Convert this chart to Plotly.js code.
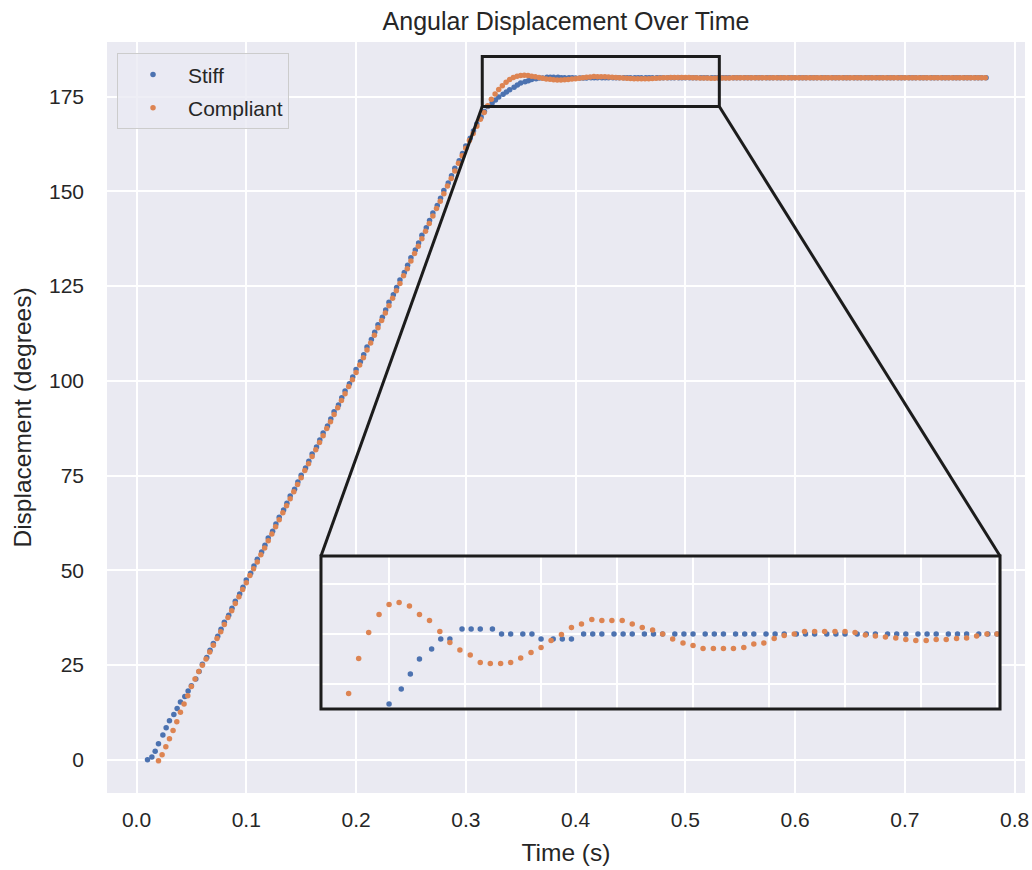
<!DOCTYPE html>
<html>
<head>
<meta charset="utf-8">
<script src="https://cdn.plot.ly/plotly-3.0.1.min.js"></script>
<style>html,body{margin:0;padding:0;background:#fff;}</style>
</head>
<body>
<div id="chart" style="width:1032px;height:870px;"></div>
<script>
// ---------------- DATA ----------------
// Stiff joint: sample times (s)
const stiffTime = [
0.010,0.014,0.017,0.020,0.024,0.027,0.030,0.034,0.037,0.040,0.044,0.047,
0.050,0.054,0.057,0.060,0.064,0.067,0.070,0.074,0.077,0.080,0.084,0.087,
0.090,0.094,0.097,0.100,0.104,0.107,0.110,0.114,0.117,0.120,0.124,0.127,
0.130,0.134,0.137,0.140,0.144,0.147,0.150,0.154,0.157,0.160,0.164,0.167,
0.170,0.174,0.177,0.180,0.184,0.187,0.190,0.194,0.197,0.200,0.204,0.207,
0.210,0.214,0.217,0.220,0.224,0.227,0.230,0.234,0.237,0.240,0.244,0.247,
0.250,0.254,0.257,0.260,0.264,0.267,0.270,0.274,0.277,0.280,0.284,0.287,
0.290,0.294,0.297,0.300,0.304,0.307,0.310,0.314,0.317,0.320,0.324,0.327,
0.330,0.334,0.337,0.340,0.344,0.347,0.350,0.354,0.357,0.360,0.364,0.367,
0.370,0.374,0.377,0.380,0.384,0.387,0.390,0.394,0.397,0.400,0.404,0.407,
0.410,0.414,0.417,0.420,0.424,0.427,0.430,0.434,0.437,0.440,0.444,0.447,
0.450,0.454,0.457,0.460,0.464,0.467,0.470,0.474,0.477,0.480,0.484,0.487,
0.490,0.494,0.497,0.500,0.504,0.507,0.510,0.514,0.517,0.520,0.524,0.527,
0.530,0.534,0.537,0.540,0.544,0.547,0.550,0.554,0.557,0.560,0.564,0.567,
0.570,0.574,0.577,0.580,0.584,0.587,0.590,0.594,0.597,0.600,0.604,0.607,
0.610,0.614,0.617,0.620,0.624,0.627,0.630,0.634,0.637,0.640,0.644,0.647,
0.650,0.654,0.657,0.660,0.664,0.667,0.670,0.674,0.677,0.680,0.684,0.687,
0.690,0.694,0.697,0.700,0.704,0.707,0.710,0.714,0.717,0.720,0.724,0.727,
0.730,0.734,0.737,0.740,0.744,0.747,0.750,0.754,0.757,0.760,0.764,0.767,
0.770,0.774
];
// Stiff joint: angular displacement (degrees)
const stiffDeg = [
0.0,0.7,2.2,4.2,6.5,8.4,10.3,11.9,13.5,15.2,16.7,18.1,19.5,21.3,23.3,25.2,
27.0,28.9,30.7,32.6,34.4,36.3,38.1,40.0,41.8,43.7,45.5,47.4,49.2,51.1,52.9,54.8,
56.6,58.5,60.3,62.2,64.0,65.9,67.7,69.6,71.4,73.3,75.1,77.0,78.8,80.7,82.5,84.4,
86.2,88.1,89.9,91.8,93.6,95.5,97.3,99.2,101.0,
103.0,105.0,106.9,108.9,110.9,112.8,114.8,116.8,118.7,120.7,
122.7,124.6,126.6,128.6,130.5,132.5,134.5,136.4,138.4,140.4,
142.3,144.3,146.3,148.2,150.2,152.2,154.1,156.1,158.1,160.0,
162.0,164.0,165.9,167.8,169.6,171.1,172.4,173.3,174.1,174.9,
175.6,176.2,176.8,177.5,178.1,178.6,178.9,179.2,179.5,179.7,
179.9,179.9,180.1,180.1,180.1,180.1,180.0,180.0,180.0,180.0,
179.9,179.9,179.9,179.9,
180,180,180,180,180,180,180,180,180,180,
180,180,180,180,180,180,180,180,180,180,
180,180,180,180,180,180,180,180,180,180,
180,180,180,180,180,180,180,180,180,180,
180,180,180,180,180,180,180,180,180,180,
180,180,180,180,180,180,180,180,180,180,
180,180,180,180,180,180,180,180,180,180,
180,180,180,180,180,180,180,180,180,180,
180,180,180,180,180,180,180,180,180,180,
180,180,180,180,180,180,180,180,180,180,
180,180,180,180,180,180,180,180,180
];
// Compliant joint: sample times (s)
const compliantTime = [
0.0200,0.0233,0.0267,0.0300,0.0333,0.0367,0.0400,0.0433,0.0467,0.0500,0.0533,0.0567,
0.0600,0.0633,0.0667,0.0700,0.0733,0.0767,0.0800,0.0833,0.0867,0.0900,0.0933,0.0967,
0.1000,0.1033,0.1067,0.1100,0.1133,0.1167,0.1200,0.1233,0.1267,0.1300,0.1333,0.1367,
0.1400,0.1433,0.1467,0.1500,0.1533,0.1567,0.1600,0.1633,0.1667,0.1700,0.1733,0.1767,
0.1800,0.1833,0.1867,0.1900,0.1933,0.1967,0.2000,0.2033,0.2067,0.2100,0.2133,0.2167,
0.2200,0.2233,0.2267,0.2300,0.2333,0.2367,0.2400,0.2433,0.2467,0.2500,0.2533,0.2567,
0.2600,0.2633,0.2667,0.2700,0.2733,0.2767,0.2800,0.2833,0.2867,0.2900,0.2933,0.2967,
0.3000,0.3033,0.3067,0.3100,0.3133,0.3167,0.3200,0.3233,0.3267,0.3300,0.3333,0.3367,
0.3400,0.3433,0.3467,0.3500,0.3533,0.3567,0.3600,0.3633,0.3667,0.3700,0.3733,0.3767,
0.3800,0.3833,0.3867,0.3900,0.3933,0.3967,0.4000,0.4033,0.4067,0.4100,0.4133,0.4167,
0.4200,0.4233,0.4267,0.4300,0.4333,0.4367,0.4400,0.4433,0.4467,0.4500,0.4533,0.4567,
0.4600,0.4633,0.4667,0.4700,0.4733,0.4767,0.4800,0.4833,0.4867,0.4900,0.4933,0.4967,
0.5000,0.5033,0.5067,0.5100,0.5133,0.5167,0.5200,0.5233,0.5267,0.5300,0.5333,0.5367,
0.5400,0.5433,0.5467,0.5500,0.5533,0.5567,0.5600,0.5633,0.5667,0.5700,0.5733,0.5767,
0.5800,0.5833,0.5867,0.5900,0.5933,0.5967,0.6000,0.6033,0.6067,0.6100,0.6133,0.6167,
0.6200,0.6233,0.6267,0.6300,0.6333,0.6367,0.6400,0.6433,0.6467,0.6500,0.6533,0.6567,
0.6600,0.6633,0.6667,0.6700,0.6733,0.6767,0.6800,0.6833,0.6867,0.6900,0.6933,0.6967,
0.7000,0.7033,0.7067,0.7100,0.7133,0.7167,0.7200,0.7233,0.7267,0.7300,0.7333,0.7367,
0.7400,0.7433,0.7467,0.7500,0.7533,0.7567,0.7600,0.7633,0.7667,
0.7700,0.7733
];
// Compliant joint: angular displacement (degrees)
const compliantDeg = [
-0.3,1.3,3.4,5.5,7.7,10.0,12.5,14.7,16.9,19.3,21.3,23.3,
24.9,26.6,28.4,30.2,32.0,33.8,35.7,37.5,39.3,41.2,43.0,44.9,46.7,48.6,
50.4,52.2,54.1,55.9,57.8,59.6,61.5,63.3,65.2,67.0,68.9,70.7,72.6,74.4,
76.3,78.1,80.0,81.8,83.7,85.5,87.4,89.2,91.1,92.9,94.8,96.6,98.5,100.3,
102.2,104.2,106.1,108.1,110.0,112.0,114.0,115.9,117.9,119.8,
121.8,123.8,125.7,127.7,129.6,131.6,133.6,135.5,137.5,139.5,
141.5,143.5,145.5,147.4,149.4,151.4,153.4,155.4,157.4,159.4,
161.4,163.4,165.3,167.2,169.0,170.8,172.6,174.3,175.7,176.9,
177.9,
178.81,179.51,180.03,180.39,180.59,
180.63,180.56,180.39,180.27,180.05,
179.83,179.68,179.58,179.43,179.41,
179.41,179.43,179.52,179.63,179.73,
179.87,179.99,180.13,180.20,180.29,
180.27,180.27,180.27,180.20,180.13,
180.08,180.00,179.90,179.82,179.77,
179.71,179.71,179.71,179.71,179.73,
179.80,179.82,179.91,179.97,180.00,
180.05,180.05,180.05,180.05,180.05,
180.03,179.98,179.96,179.94,179.92,
179.89,179.87,179.87,179.89,179.89,
179.91,179.92,179.96,180.00,180.00,
180,180,180,180,180,180,180,180,180,180,
180,180,180,180,180,180,180,180,180,180,
180,180,180,180,180,180,180,180,180,180,
180,180,180,180,180,180,180,180,180,180,
180,180,180,180,180,180,180,180,180,180,
180,180,180,180,180,180,180,180,180,180,
180,180,180,180,180,180,180
];
const seriesNames = ['Stiff', 'Compliant'];
const xTickStep = 0.1;
const yTickStep = 25;

// ---------------- STYLE / LAYOUT ----------------
const FONT = '"Liberation Sans", Arial, Helvetica, sans-serif';
const TXT = '#262626';
const BLUE = '#4C72B0';
const ORANGE = '#DD8452';
const FRAME = '#1c1c1c';

const mainXRange = [-0.0269, 0.8095];
const mainYRange = [-8.79, 189.42];
const insetDomX = [0.2331, 0.9728];
const insetDomY = [0.1119, 0.3156];
const insetXRange = [0.3276, 0.5510];
const insetYRange = [178.5, 181.56];
const zoomBox = {x0: 0.315, x1: 0.531, y0: 172.4, y1: 185.6};

const mk = (c) => ({color: c, size: 5.5, line: {width: 0}});

const traces = [
  {x: stiffTime, y: stiffDeg, name: seriesNames[0], type: 'scatter', mode: 'markers',
   marker: mk(BLUE), legendgroup: 'a', xaxis: 'x', yaxis: 'y'},
  {x: compliantTime, y: compliantDeg, name: seriesNames[1], type: 'scatter', mode: 'markers',
   marker: mk(ORANGE), legendgroup: 'b', xaxis: 'x', yaxis: 'y'},
  {x: stiffTime, y: stiffDeg, name: seriesNames[0], type: 'scatter', mode: 'markers',
   marker: mk(BLUE), showlegend: false, xaxis: 'x2', yaxis: 'y2'},
  {x: compliantTime, y: compliantDeg, name: seriesNames[1], type: 'scatter', mode: 'markers',
   marker: mk(ORANGE), showlegend: false, xaxis: 'x2', yaxis: 'y2'}
];

// inset corners expressed in the main axes' data coordinates
const px2x = p => mainXRange[0] + p * (mainXRange[1] - mainXRange[0]);
const py2y = p => mainYRange[0] + p * (mainYRange[1] - mainYRange[0]);

const baseAxis = {
  showgrid: true, gridcolor: '#ffffff', gridwidth: 2,
  zeroline: false, showline: false, ticks: '', automargin: false
};

const layout = {
  width: 1032, height: 870,
  margin: {l: 107, r: 7, t: 42, b: 77, pad: 0},
  paper_bgcolor: '#ffffff',
  plot_bgcolor: '#EAEAF2',
  font: {family: FONT, color: TXT, size: 21},
  showlegend: true,
  title: {
    text: 'Angular Displacement Over Time',
    font: {family: FONT, size: 25, color: TXT},
    x: 0.5, xref: 'paper', xanchor: 'center',
    y: 1 - 21 / 870, yref: 'container', yanchor: 'middle'
  },
  xaxis: Object.assign({}, baseAxis, {
    domain: [0, 1], range: mainXRange, tick0: 0, dtick: xTickStep, tickformat: '.1f',
    tickfont: {family: FONT, size: 21, color: TXT}, ticklabelstandoff: 12,
    title: {text: 'Time (s)', font: {family: FONT, size: 24.5, color: TXT}, standoff: 13},
    anchor: 'y'
  }),
  yaxis: Object.assign({}, baseAxis, {
    domain: [0, 1], range: mainYRange, tick0: 0, dtick: yTickStep,
    tickfont: {family: FONT, size: 21, color: TXT}, ticklabelstandoff: 22,
    title: {text: 'Displacement (degrees)', font: {family: FONT, size: 24.5, color: TXT}, standoff: 10},
    anchor: 'x'
  }),
  xaxis2: Object.assign({}, baseAxis, {
    domain: insetDomX, range: insetXRange, tick0: 0.35, dtick: 0.025,
    showticklabels: false, anchor: 'y2'
  }),
  yaxis2: Object.assign({}, baseAxis, {
    domain: insetDomY, range: insetYRange, tick0: 180, dtick: 1,
    showticklabels: false, anchor: 'x2'
  }),
  legend: {
    x: 0.0109, y: 0.985, xanchor: 'left', yanchor: 'top',
    bgcolor: 'rgba(234,234,242,0.8)', bordercolor: '#cccccc', borderwidth: 1,
    font: {family: FONT, size: 21, color: TXT},
    itemwidth: 60, tracegroupgap: 3, entrywidth: 180
  },
  shapes: [
    {type: 'rect', xref: 'x', yref: 'y', x0: zoomBox.x0, x1: zoomBox.x1, y0: zoomBox.y0, y1: zoomBox.y1,
     line: {color: FRAME, width: 3}, fillcolor: 'rgba(0,0,0,0)', layer: 'above'},
    {type: 'line', xref: 'x', yref: 'y', x0: zoomBox.x0, y0: zoomBox.y0,
     x1: px2x(insetDomX[0]), y1: py2y(insetDomY[1]), line: {color: FRAME, width: 3}, layer: 'above'},
    {type: 'line', xref: 'x', yref: 'y', x0: zoomBox.x1, y0: zoomBox.y0,
     x1: px2x(insetDomX[1]), y1: py2y(insetDomY[1]), line: {color: FRAME, width: 3}, layer: 'above'},
    {type: 'rect', xref: 'paper', yref: 'paper', x0: insetDomX[0], x1: insetDomX[1],
     y0: insetDomY[0], y1: insetDomY[1], line: {color: FRAME, width: 3},
     fillcolor: 'rgba(0,0,0,0)', layer: 'above'}
  ]
};

Plotly.newPlot('chart', traces, layout, {displayModeBar: false, staticPlot: true});
</script>
</body>
</html>
